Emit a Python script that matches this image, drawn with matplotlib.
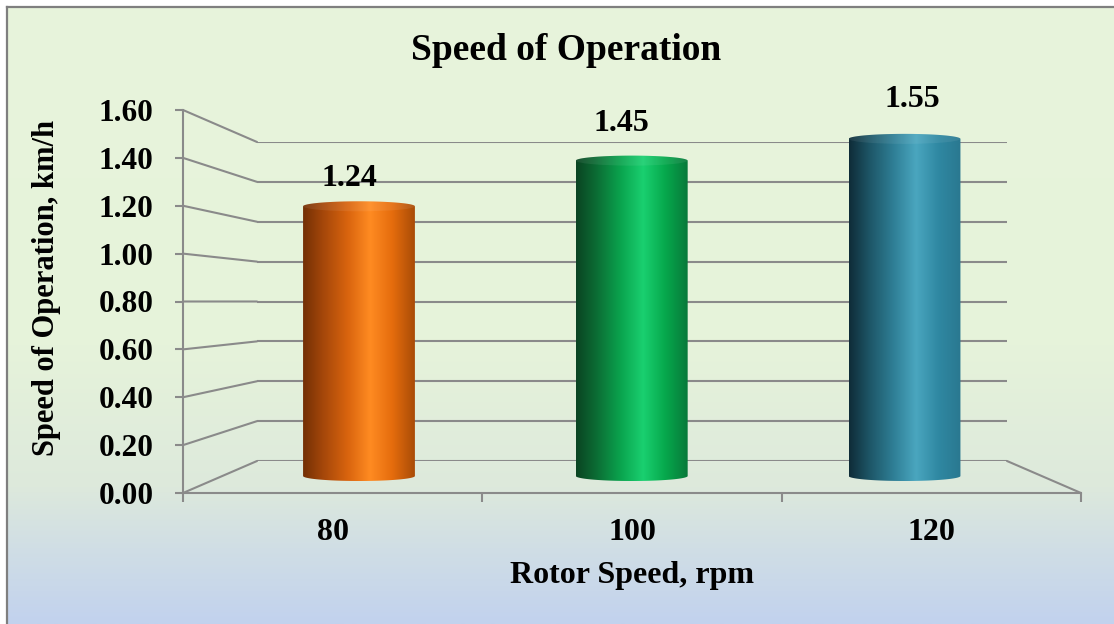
import numpy as np
import matplotlib
matplotlib.use("Agg")
import matplotlib.pyplot as plt
from matplotlib.patches import Ellipse, ConnectionPatch
from matplotlib.path import Path
from matplotlib.colors import LinearSegmentedColormap
from matplotlib.lines import Line2D

# ---- data ----
categories = ["80", "100", "120"]
speeds = [1.24, 1.45, 1.55]
y_ticks = [0.0, 0.2, 0.4, 0.6, 0.8, 1.0, 1.2, 1.4, 1.6]
y_tick_labels = ["0.00", "0.20", "0.40", "0.60", "0.80", "1.00", "1.20", "1.40", "1.60"]
title = "Speed of Operation"
x_title = "Rotor Speed, rpm"
y_title = "Speed of Operation, km/h"

# ---- styling ----
W, H = 1114, 624
GRID = "#8a8a8a"
FONT = "Liberation Serif"
cyl_ramps = [
    ["#733005", "#a5470a", "#d9640e", "#ff8b22", "#e56c0d", "#a94c07"],
    ["#0a4422", "#0c6c34", "#0aa44e", "#1ad070", "#06a84c", "#08793a"],
    ["#0f2c38", "#1d5566", "#2f7f96", "#4aa6bf", "#2f88a2", "#2a7890"],
]
label_nudge_px = [(-10, 28), (-10, 37), (8, 39)]

plt.rcParams["font.family"] = [FONT, "DejaVu Serif"]
plt.rcParams["font.weight"] = "bold"

fig = plt.figure(figsize=(W / 100, H / 100), dpi=100)


def box(x0, y0, x1, y1):
    return [x0 / W, 1 - y1 / H, (x1 - x0) / W, (y1 - y0) / H]


# background with vertical gradient and thin frame on left/top
bg = fig.add_axes([0, 0, 1, 1])
bg.set_axis_off()
bg.set_xlim(0, W)
bg.set_ylim(H, 0)
stops = [(0.0, "#e8f4dc"), (0.55, "#e6f3da"), (0.78, "#dde9dc"),
         (0.88, "#d0dee5"), (1.0, "#c2d2ee")]
bg_cmap = LinearSegmentedColormap.from_list("bg", stops)
grad = np.linspace(0, 1, 400).reshape(-1, 1)
bg.imshow(grad, cmap=bg_cmap, extent=[7, W, H, 7], aspect="auto",
          interpolation="bicubic", zorder=0)
bg.add_line(Line2D([7, 7], [7, H], color="#7f7f7f", lw=1.6, zorder=2))
bg.add_line(Line2D([7, W], [7, 7], color="#7f7f7f", lw=1.6, zorder=2))

# back wall: horizontal gridlines
ax_back = fig.add_axes(box(257, 142, 1007, 461))
ax_back.set_xlim(0, 3)
ax_back.set_ylim(0, 1.6)
ax_back.patch.set_alpha(0)
for s in ax_back.spines.values():
    s.set_visible(False)
ax_back.set_xticks([])
ax_back.set_yticks(y_ticks)
ax_back.tick_params(left=False, labelleft=False)
ax_back.grid(axis="y", color=GRID, lw=1.5)

# cylinders in the middle depth plane (value axis starts slightly below 0
# so that the rounded base of each cylinder stays inside the axes)
px_per_unit_y = (476 - 128) / 1.6
y_floor = -0.08
ax_mid = fig.add_axes(box(222.6, 128, 1040.9, 476 - y_floor * px_per_unit_y))
ax_mid.set_xlim(0, 3)
ax_mid.set_ylim(y_floor, 1.6)
ax_mid.set_axis_off()

half_w = 0.205
ell_b = 5.0 / px_per_unit_y

for i, (v, ramp) in enumerate(zip(speeds, cyl_ramps)):
    c = i + 0.5
    cmap = LinearSegmentedColormap.from_list(
        f"cyl{i}", list(zip([0.0, 0.18, 0.4, 0.6, 0.8, 1.0], ramp)))
    t_bot = np.linspace(np.pi, 2 * np.pi, 60)
    t_top = np.linspace(0, np.pi, 60)
    xs = np.concatenate([c + half_w * np.cos(t_bot), c + half_w * np.cos(t_top)])
    ys = np.concatenate([ell_b * np.sin(t_bot), v + ell_b * np.sin(t_top)])
    verts = np.column_stack([xs, ys])
    body = Path(np.vstack([verts, verts[:1]]), closed=True)
    img = ax_mid.imshow(np.linspace(0, 1, 256).reshape(1, -1), cmap=cmap,
                        extent=[c - half_w, c + half_w, -ell_b, v + ell_b],
                        aspect="auto", interpolation="bicubic", zorder=2)
    img.set_clip_path(body, transform=ax_mid.transData)
    # faint highlight of the top face
    ax_mid.add_patch(Ellipse((c, v), 2 * half_w, 2 * ell_b, facecolor="white",
                             alpha=0.07, edgecolor="none", zorder=3))
    dx, dy = label_nudge_px[i]
    ax_mid.annotate(f"{v:.2f}", (c, v), xytext=(dx * 0.72, dy * 0.72),
                    textcoords="offset points", ha="center", va="center",
                    fontsize=23, fontweight="bold", zorder=4)

# front plane: value axis, category axis
ax = fig.add_axes(box(183, 110, 1081, 493))
ax.set_xlim(0, 3)
ax.set_ylim(0, 1.6)
ax.patch.set_alpha(0)
for side in ("top", "right"):
    ax.spines[side].set_visible(False)
for side in ("left", "bottom"):
    ax.spines[side].set_color(GRID)
    ax.spines[side].set_linewidth(1.5)
ax.set_yticks(y_ticks)
ax.set_yticklabels(y_tick_labels)
ax.tick_params(axis="y", direction="out", length=6, width=1.5, color=GRID,
               pad=15, labelsize=22.5)
ax.set_xticks([0, 1, 2, 3])
ax.set_xticklabels([])
ax.tick_params(axis="x", which="major", direction="out", length=6.5,
               width=1.5, color=GRID)
ax.set_xticks([0.5, 1.5, 2.5], minor=True)
ax.set_xticklabels(categories, minor=True)
ax.tick_params(axis="x", which="minor", length=0, pad=18, labelsize=23)
for lbl in ax.get_yticklabels() + ax.get_xticklabels(minor=True):
    lbl.set_fontweight("bold")

# depth edges joining the front axis to the back wall
for v in y_ticks:
    fig.add_artist(ConnectionPatch((0, v), (0, v), coordsA=ax.transData,
                                   coordsB=ax_back.transData, color=GRID,
                                   lw=1.5))
fig.add_artist(ConnectionPatch((3, 0), (3, 0), coordsA=ax.transData,
                               coordsB=ax_back.transData, color=GRID, lw=1.5))

# titles
fig.text(566 / W, 1 - 50 / H, title, ha="center", va="center",
         fontsize=27, fontweight="bold")
fig.text(632 / W, 1 - 575 / H, x_title, ha="center", va="center",
         fontsize=23, fontweight="bold")
fig.text(47 / W, 1 - 288 / H, y_title, ha="center", va="center",
         rotation=90, fontsize=22, fontweight="bold")

fig.savefig("out.png", dpi=100)
